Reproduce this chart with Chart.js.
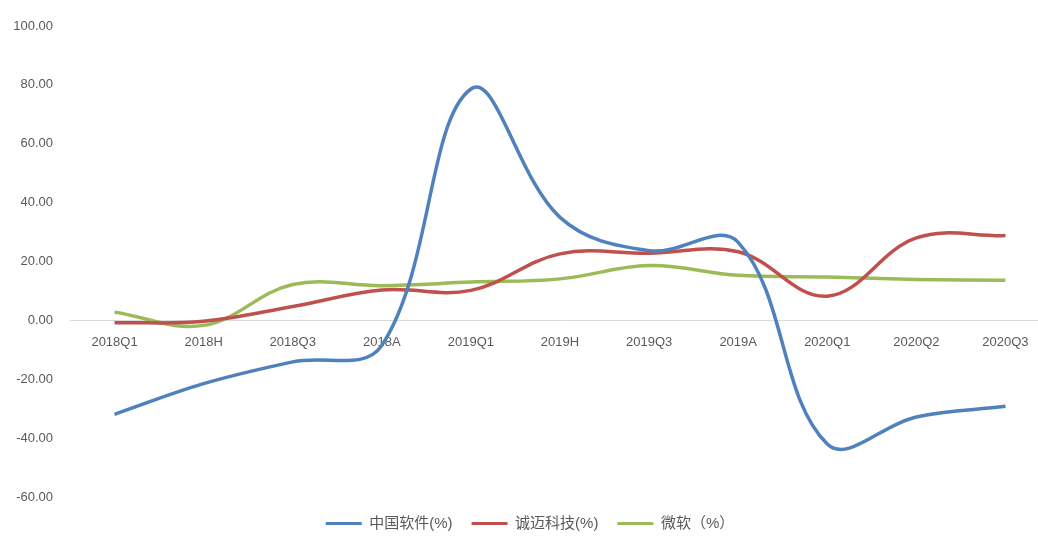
<!DOCTYPE html>
<html>
<head>
<meta charset="utf-8">
<script src="https://cdn.jsdelivr.net/npm/chart.js@4/dist/chart.umd.min.js"></script>
<style>
html,body{margin:0;padding:0;background:#fff;overflow:hidden;}
#wrap{width:1038px;height:541px;position:relative;overflow:hidden;}
#c{position:absolute;left:0;top:0;}
</style>
</head>
<body>
<div id="wrap"><canvas id="c" width="1066" height="541" style="width:1066px;height:541px"></canvas></div>
<script>
const categories = ['2018Q1','2018H','2018Q3','2018A','2019Q1','2019H','2019Q3','2019A','2020Q1','2020Q2','2020Q3'];
const chinaSoft = [-31.9, -21.5, -14.1, -8.5, 78.6, 35.0, 23.7, 26.5, -42.0, -32.8, -29.2];
const chengmai = [-0.8, -0.3, 4.7, 10.3, 10.2, 22.6, 22.8, 23.3, 8.2, 28.0, 28.8];
const microsoft = [2.8, -1.7, 12.2, 11.8, 13.0, 14.1, 18.6, 15.3, 14.7, 13.9, 13.6];
const seriesNames = ['中国软件(%)', '诚迈科技(%)', '微软（%）'];
const yTicks = {min: -60, max: 100, step: 20};

const txt = '#595959';
const fontFam = '"Liberation Sans", "Noto Sans CJK SC", sans-serif';

new Chart(document.getElementById('c'), {
  type: 'line',
  data: {
    labels: categories,
    datasets: [
      {label: seriesNames[0], data: chinaSoft, borderColor: '#4F81BD', backgroundColor: '#4F81BD'},
      {label: seriesNames[1], data: chengmai, borderColor: '#C0504D', backgroundColor: '#C0504D'},
      {label: seriesNames[2], data: microsoft, borderColor: '#9BBB59', backgroundColor: '#9BBB59'}
    ].map(d => Object.assign(d, {borderWidth: 3.5, pointRadius: 0, pointHoverRadius: 0, tension: 0.38, fill: false}))
  },
  options: {
    responsive: false,
    animation: false,
    layout: {padding: {top: 26, left: 10, right: 16, bottom: 0}},
    scales: {
      x: {
        position: {y: 0},
        offset: true,
        grid: {display: false, drawTicks: false},
        border: {display: true, color: '#d9d9d9', width: 1},
        ticks: {color: txt, font: {family: fontFam, size: 13}, padding: 14, maxRotation: 0, autoSkip: false}
      },
      y: {
        min: yTicks.min, max: yTicks.max,
        grid: {display: false, drawTicks: false},
        border: {display: false},
        afterFit: s => { s.width = 60; },
        ticks: {stepSize: yTicks.step, color: txt, font: {family: fontFam, size: 13}, padding: 17,
          callback: v => Number(v).toFixed(2)}
      }
    },
    plugins: {
      tooltip: {enabled: false},
      legend: {
        position: 'bottom',
        labels: {
          color: txt,
          font: {family: fontFam, size: 15},
          boxWidth: 36, boxHeight: 3, padding: 19,
          generateLabels: chart => chart.data.datasets.map((d, i) => ({
            text: d.label, fillStyle: d.borderColor, strokeStyle: d.borderColor, lineWidth: 0,
            fontColor: txt, datasetIndex: i, hidden: false
          }))
        }
      }
    }
  }
});
</script>
</body>
</html>
